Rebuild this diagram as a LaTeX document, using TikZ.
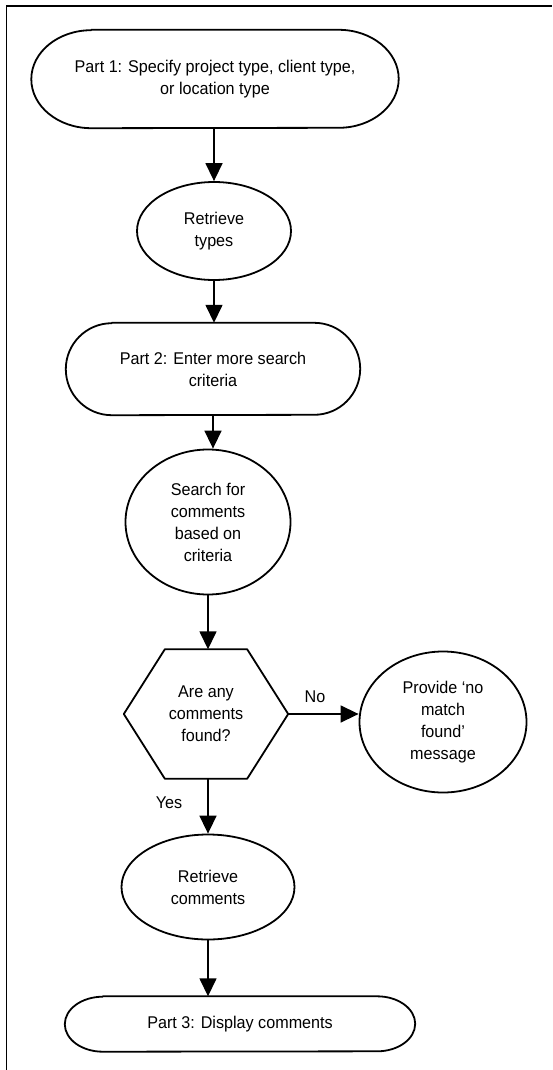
\documentclass[tikz,border=0pt]{standalone}
\usepackage{fontspec}
\setmainfont{Liberation Sans}[FakeStretch=0.95]
\usetikzlibrary{arrows.meta,shapes.geometric,calc}
\newcommand\mystadium[3]{\draw[outl] ([xshift=#2pt]#1.north west) -- ([xshift=-#2pt]#1.north east) arc[start angle=90,end angle=-90,x radius=#2pt,y radius=#3pt] -- ([xshift=#2pt]#1.south west) arc[start angle=270,end angle=90,x radius=#2pt,y radius=#3pt] -- cycle;}
\tikzset{
  txt/.style={font=\fontsize{17}{22}\selectfont},
  box/.style={txt, draw=none, rectangle, inner sep=0pt, align=center},
  outl/.style={line width=1.8pt, line join=round},
  ell/.style={txt, ellipse, draw, line width=1.8pt, inner sep=0pt, align=center},
  arr/.style={-{Triangle[length=18pt,width=17pt]}, line width=1.5pt},
  lbl/.style={txt, inner sep=0pt}
}
\begin{document}
\begin{tikzpicture}[x=1pt,y=1pt]
\useasboundingbox (0,0) rectangle (552,-1070);
% frame (left and top only visible)
\draw[line width=1.5pt] (6.5,-1070) -- (6.5,-6) -- (552,-6);

\node[box, minimum width=367pt, minimum height=98pt] (p1) at (215,-79)
  {Part 1: Specify project type, client type,\\ or location type};
\mystadium{p1}{60}{49}

\node[ell, minimum width=154pt, minimum height=98pt] (rt) at (214,-231) {Retrieve\\types};

\node[box, minimum width=294pt, minimum height=92pt] (p2) at (213,-369)
  {Part 2: Enter more search\\criteria};
\mystadium{p2}{46}{46}

\node[ell, minimum width=165pt, minimum height=145pt] (sc) at (208,-522)
  {Search for\\comments\\based on\\criteria};

\node[box, minimum width=164pt, minimum height=129pt] (hx) at (206,-714)
  {Are any\\comments\\found?};
\draw[outl] (hx.west) -- ([xshift=41pt]hx.north west) -- ([xshift=-41pt]hx.north east)
  -- (hx.east) -- ([xshift=-41pt]hx.south east) -- ([xshift=41pt]hx.south west) -- cycle;

\node[ell, minimum width=167pt, minimum height=141pt] (pv) at (443,-722)
  {Provide {\textquoteleft}no\\match\\{found\textquoteright}\\message};

\node[ell, minimum width=173pt, minimum height=105pt] (rc) at (208,-887)
  {Retrieve\\comments};

\node[box, minimum width=350pt, minimum height=55pt] (p3) at (240,-1024)
  {Part 3: Display comments};
\mystadium{p3}{38}{27.5}

% connectors
\draw[arr] (rt.north |- p1.south) -- (rt.north);
\draw[arr] (rt.south) -- (rt.south |- p2.north);
\draw[arr] (p2.south) -- (p2.south |- sc.north);
\draw[arr] (sc.south) -- (sc.south |- hx.north);
\draw[arr] (hx.east) -- (hx.east -| pv.west) node[lbl, pos=0.38, above=11pt] (no) {No};
\draw[arr] (rc.north |- hx.south) -- (rc.north) node[lbl, pos=0.43, left=25pt] (yes) {Yes};
\draw[arr] (rc.south) -- (rc.south |- p3.north);
\end{tikzpicture}
\end{document}
